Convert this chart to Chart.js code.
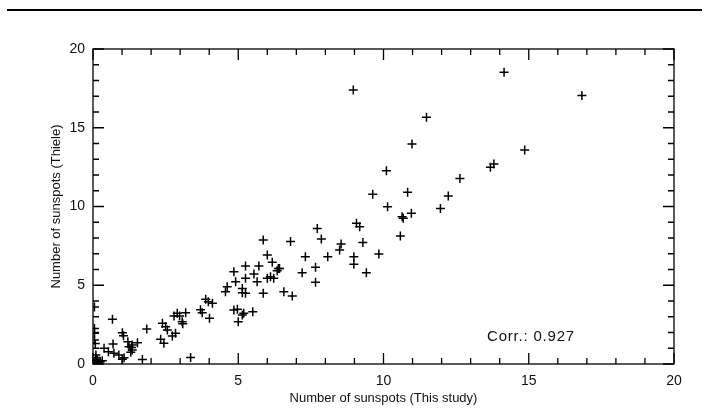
<!DOCTYPE html>
<html>
<head>
<meta charset="utf-8">
<script src="https://cdn.jsdelivr.net/npm/chart.js@4.4.0/dist/chart.umd.min.js"></script>
<style>
  html, body { margin: 0; padding: 0; background: #fff; }
  #wrap { width: 705px; height: 414px; }
</style>
</head>
<body>
<div id="wrap"><canvas id="scatterChart" width="705" height="414"></canvas></div>
<script>
// sunspot counts, this study (x) vs Thiele (y)
const thisStudy = [
  0.05, 0.05, 0.05, 0.05, 0.08, 0.1, 0.1, 0.15, 0.32, 0.05, 0.2, 0.25,
  0.67, 1.01, 1.05, 1.85, 0.69, 1.2, 1.35, 1.53, 1.24, 1.33, 1.35, 1.3,
  0.38, 0.53, 0.72, 0.89, 1.01, 1.07, 1.7, 3.36,
  2.39, 2.5, 2.56, 2.33, 2.44, 2.79, 2.9, 2.98, 3.19, 3.07, 3.09, 2.84, 2.73,
  3.7, 3.76, 4.01, 3.88, 3.97, 4.11,
  4.85, 5.54, 5.25, 4.91, 5.65, 6.0, 6.11, 6.22, 6.34, 7.2, 4.62, 4.56, 5.14,
  5.14, 5.25, 5.86, 6.57, 6.86, 4.85, 4.97, 5.19, 5.5, 5.0, 5.14,
  5.86, 6.8, 6.0, 6.17, 6.38, 6.42, 5.25, 5.71, 7.31,
  9.63, 10.14, 9.07, 9.18, 7.72, 7.86, 8.54, 8.49, 9.29, 9.84, 8.08, 8.98,
  8.98, 7.66, 9.41, 7.66, 10.64, 10.68, 10.96, 10.58, 11.96, 10.1, 13.68,
  13.8, 12.63, 10.83, 12.23, 8.96, 14.15, 16.83, 11.48, 10.98, 14.86
];
const thiele = [
  3.62, 2.25, 1.95, 1.52, 1.3, 0.57, 0.42, 0.25, 0.2, 0.08, 0.08, 0.15,
  2.84, 1.99, 1.8, 2.22, 1.27, 1.42, 1.2, 1.35, 1.1, 1.05, 0.89, 0.75,
  1.0, 0.78, 0.68, 0.57, 0.3, 0.4, 0.28, 0.42,
  2.58, 2.37, 2.16, 1.57, 1.31, 3.05, 3.22, 3.05, 3.26, 2.69, 2.55, 1.95, 1.78,
  3.45, 3.25, 2.9, 4.11, 3.96, 3.85,
  5.86, 5.71, 5.44, 5.23, 5.23, 5.44, 5.54, 5.44, 5.92, 5.8, 4.91, 4.59, 4.8,
  4.53, 4.49, 4.49, 4.59, 4.32, 3.43, 3.47, 3.22, 3.32, 2.69, 3.11,
  7.87, 7.77, 6.92, 6.46, 6.07, 6.07, 6.22, 6.22, 6.81,
  10.77, 9.99, 8.93, 8.72, 8.61, 7.94, 7.62, 7.24, 7.72, 6.98, 6.81, 6.81,
  6.33, 6.14, 5.8, 5.19, 9.35, 9.25, 9.57, 8.13, 9.88, 12.27, 12.49,
  12.7, 11.77, 10.9, 10.67, 17.4, 18.52, 17.04, 15.66, 13.97, 13.59
];
const axisTicks = [0, 5, 10, 15, 20];
const corrLabel = 'Corr.: 0.927';

const points = thisStudy.map(function (x, i) { return { x: x, y: thiele[i] }; });
const textFont = '"Liberation Sans", Arial, sans-serif';

// IDL style box: inward ticks on all four sides, top rule, correlation note
const frame = {
  id: 'frame',
  beforeDraw: function (chart) {
    const c = chart.ctx;
    c.save();
    c.strokeStyle = '#000';
    c.lineWidth = 2;
    c.beginPath();
    c.moveTo(7, 10);
    c.lineTo(702, 10);
    c.stroke();
    c.restore();
  },
  afterDraw: function (chart) {
    const c = chart.ctx;
    const a = chart.chartArea;
    const xs = chart.scales.x;
    const ys = chart.scales.y;
    c.save();
    c.strokeStyle = '#000';
    c.lineWidth = 1.3;
    c.strokeRect(a.left, a.top, a.right - a.left, a.bottom - a.top);
    c.beginPath();
    for (let v = 0; v <= 20; v++) {
      const len = v % 5 === 0 ? 11 : 6;
      const px = xs.getPixelForValue(v);
      c.moveTo(px, a.bottom); c.lineTo(px, a.bottom - len);
      c.moveTo(px, a.top); c.lineTo(px, a.top + len);
      const py = ys.getPixelForValue(v);
      c.moveTo(a.left, py); c.lineTo(a.left + len, py);
      c.moveTo(a.right, py); c.lineTo(a.right - len, py);
    }
    c.stroke();
    c.fillStyle = '#111';
    c.font = '15px ' + textFont;
    c.letterSpacing = '0.8px';
    c.textAlign = 'center';
    c.textBaseline = 'middle';
    c.fillText(corrLabel, 531, 337);
    c.restore();
  }
};

new Chart(document.getElementById('scatterChart'), {
  type: 'scatter',
  data: {
    datasets: [{
      data: points,
      pointStyle: 'cross',
      pointRadius: 4.5,
      pointHoverRadius: 4.5,
      borderColor: '#000',
      backgroundColor: '#000',
      borderWidth: 1.5,
      clip: 0
    }]
  },
  options: {
    responsive: false,
    animation: false,
    events: [],
    layout: { padding: { left: 0, top: 49, right: 31, bottom: 0 } },
    plugins: { legend: { display: false }, tooltip: { enabled: false } },
    scales: {
      x: {
        type: 'linear',
        min: 0,
        max: 20,
        afterFit: function (s) { s.height = 50; },
        afterBuildTicks: function (s) { s.ticks = axisTicks.map(function (v) { return { value: v }; }); },
        grid: { display: false, drawTicks: false },
        border: { display: false },
        ticks: { color: '#111', padding: 9, font: { family: textFont, size: 14 } },
        title: {
          display: true,
          text: 'Number of sunspots (This study)',
          color: '#111',
          font: { family: textFont, size: 13 },
          padding: { top: 0, bottom: 8 }
        }
      },
      y: {
        type: 'linear',
        min: 0,
        max: 20,
        afterFit: function (s) { s.width = 93; },
        afterBuildTicks: function (s) { s.ticks = axisTicks.map(function (v) { return { value: v }; }); },
        grid: { display: false, drawTicks: false },
        border: { display: false },
        ticks: { color: '#111', padding: 8, font: { family: textFont, size: 14 } },
        title: {
          display: true,
          text: 'Number of sunspots (Thiele)',
          color: '#111',
          font: { family: textFont, size: 13 },
          padding: { top: 49, bottom: 0 }
        }
      }
    }
  },
  plugins: [frame]
});
</script>
</body>
</html>
